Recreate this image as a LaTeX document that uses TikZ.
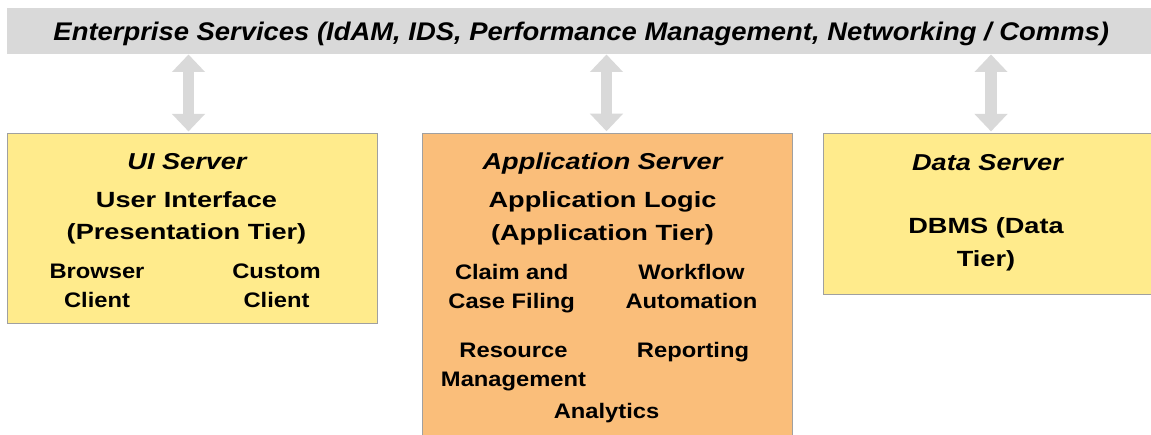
\documentclass[tikz,border=0pt]{standalone}
\usepackage{fontspec}
\setmainfont{Liberation Sans}
\newfontfamily\titlefont{Liberation Sans}[FakeStretch=1.075]
\newfontfamily\hdrfont{Liberation Sans}[FakeStretch=1.18]
\newfontfamily\headfont{Liberation Sans}[FakeStretch=1.235]
\newfontfamily\itemfont{Liberation Sans}[FakeStretch=1.13]
\usetikzlibrary{arrows.meta}
\definecolor{bargray}{RGB}{217,217,217}
\definecolor{arrowgray}{RGB}{217,217,217}
\definecolor{bordergray}{RGB}{160,160,160}
\definecolor{boxyellow}{RGB}{255,235,140}
\definecolor{boxorange}{RGB}{250,190,122}
\tikzset{
  bar/.style={fill=bargray, draw=none, inner sep=0pt},
  box/.style={draw=bordergray, line width=0.9pt, inner sep=0pt},
  txt/.style={inner sep=0pt, anchor=base, align=center},
  titletxt/.style={txt, font=\titlefont\bfseries\itshape\fontsize{25.5}{30}\selectfont},
  hdr/.style={txt, font=\hdrfont\bfseries\itshape\fontsize{23}{28}\selectfont},
  head/.style={txt, font=\headfont\bfseries\fontsize{22}{32.7}\selectfont},
  item/.style={txt, font=\itemfont\bfseries\fontsize{21}{29}\selectfont},
  dblarrow/.style={draw=arrowgray, line width=11.7pt,
    {Triangle[length=17.5pt,width=32pt]}-{Triangle[length=17.5pt,width=32pt]}},
}
\begin{document}
\begin{tikzpicture}[x=1pt,y=-1pt]
\clip (0,0) rectangle (1151,435);
\fill[white] (0,0) rectangle (1151,435);

% enterprise services bar
\node[bar, minimum width=1148pt, minimum height=46.3pt] (es) at (581,31.15) {};
\node[titletxt] (estxt) at (581.3,40.7) {Enterprise Services (IdAM, IDS, Performance Management, Networking / Comms)};

% boxes
\node[box, fill=boxyellow, minimum width=370pt, minimum height=190pt] (ui) at (192.3,228.2) {};
\node[box, fill=boxorange, minimum width=370pt, minimum height=310pt] (app) at (607,288) {};
\node[box, fill=boxyellow, minimum width=332pt, minimum height=161pt] (data) at (989,213.7) {};

% arrows
\coordinate (a1) at (188.5,0);
\coordinate (a2) at (606.5,0);
\coordinate (a3) at (991,0);
\draw[dblarrow] (es.south -| a1) -- ([yshift=1.3pt]ui.north -| a1);
\draw[dblarrow] (es.south -| a2) -- ([yshift=1.3pt]app.north -| a2);
\draw[dblarrow] (es.south -| a3) -- ([yshift=1.3pt]data.north -| a3);

% UI server (multi-line nodes: base anchor = last line's baseline)
\node[hdr] (uihdr) at (187,169.3) {UI Server};
\node[head] (uihead) at (186.5,240) {User Interface\\(Presentation Tier)};
\node[item] (browser) at (97,307.7) {Browser\\Client};
\node[item] (custom) at (276.5,307.7) {Custom\\Client};

% Application server
\node[hdr] (apphdr) at (602.5,169.3) {Application Server};
\node[head] (apphead) at (602.5,240.5) {Application Logic\\(Application Tier)};
\node[item] (claim) at (511.7,308.2) {Claim and\\Case Filing};
\node[item] (workflow) at (691.5,308.2) {Workflow\\Automation};
\node[item] (resource) at (513.5,386.5) {Resource\\Management};
\node[item] (reporting) at (693,357.3) {Reporting};
\node[item] (analytics) at (606.5,418.3) {Analytics};

% Data server
\node[hdr] (datahdr) at (987.5,171) {Data Server};
\node[head] (datahead) at (986,266.7) {DBMS (Data\\Tier)};
\end{tikzpicture}
\end{document}
